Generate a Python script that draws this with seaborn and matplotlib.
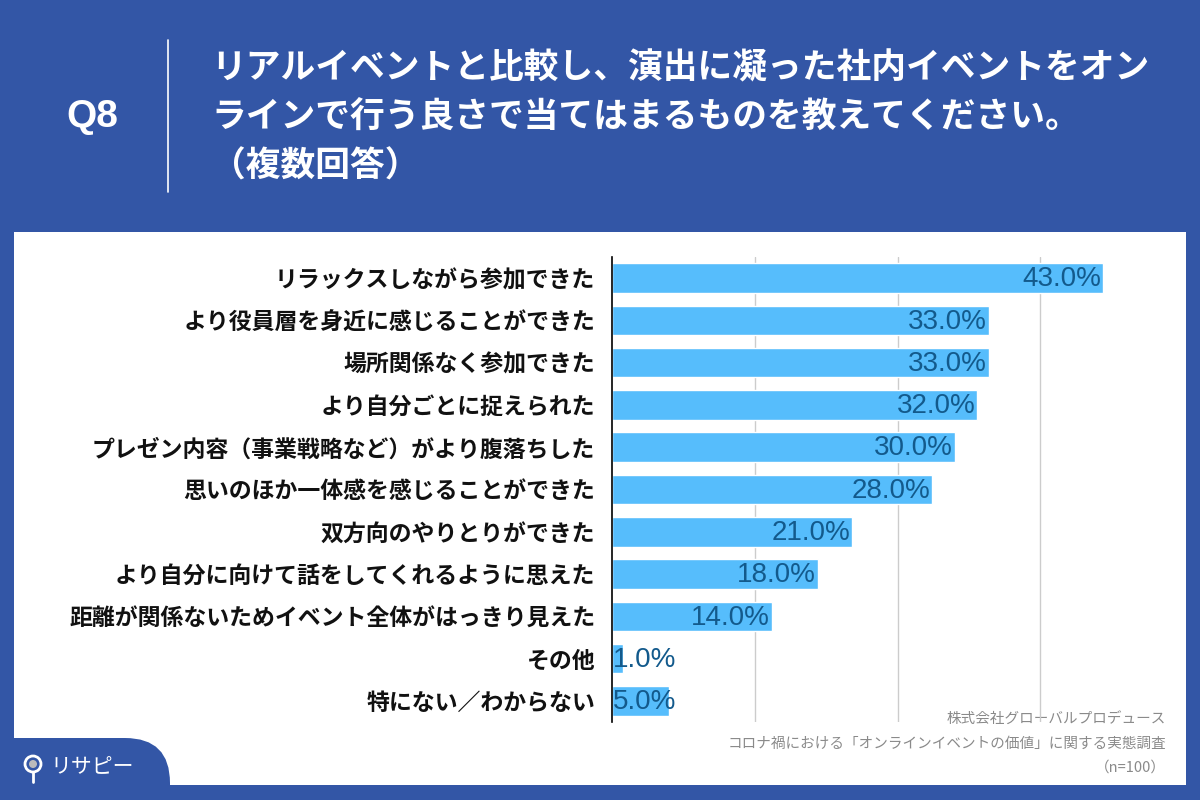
import matplotlib
matplotlib.use('Agg')
import matplotlib.pyplot as plt
import seaborn as sns
import pandas as pd
from matplotlib.patches import Rectangle, FancyBboxPatch, Circle

# データ
categories = [
    'リラックスしながら参加できた',
    'より役員層を身近に感じることができた',
    '場所関係なく参加できた',
    'より自分ごとに捉えられた',
    'プレゼン内容（事業戦略など）がより腹落ちした',
    '思いのほか一体感を感じることができた',
    '双方向のやりとりができた',
    'より自分に向けて話をしてくれるように思えた',
    '距離が関係ないためイベント全体がはっきり見えた',
    'その他',
    '特にない／わからない',
]
values = [43.0, 33.0, 33.0, 32.0, 30.0, 28.0, 21.0, 18.0, 14.0, 1.0, 5.0]

title_lines = [
    'リアルイベントと比較し、演出に凝った社内イベントをオン',
    'ラインで行う良さで当てはまるものを教えてください。',
    '（複数回答）',
]
footer_lines = [
    '株式会社グローバルプロデュース',
    'コロナ禍における「オンラインイベントの価値」に関する実態調査',
    '（n=100）',
]

sns.set_theme(style='white')
plt.rcParams['font.family'] = ['Noto Sans CJK JP', 'DejaVu Sans']

blue = '#3356a6'
bar_color = '#56bdfc'
label_color = '#135a8c'

fig = plt.figure(figsize=(12, 8), dpi=100)
fig.patch.set_facecolor(blue)

# 背景用の軸（ピクセル座標）
bg = fig.add_axes([0, 0, 1, 1], zorder=0)
bg.set_xlim(0, 1200)
bg.set_ylim(800, 0)
bg.axis('off')
bg.add_patch(Rectangle((14, 232), 1172, 553, facecolor='white', edgecolor='none'))
bg.add_patch(FancyBboxPatch((-60, 738), 230, 120, boxstyle='round,pad=0,rounding_size=45',
                            facecolor=blue, edgecolor='none'))
bg.add_patch(Rectangle((0, 785), 1200, 15, facecolor=blue, edgecolor='none'))

# ヘッダー
bg.text(92, 117, 'Q8', color='white', fontsize=28, fontweight='bold',
        ha='center', va='center', family=['Liberation Sans', 'DejaVu Sans'])
bg.plot([168, 168], [40, 192], color='white', lw=1.2)
for i, line in enumerate(title_lines):
    bg.text(211, 68 + i * 49, line, color='white', fontsize=25, fontweight='bold',
            ha='left', va='center')

# ロゴ
bg.add_patch(Circle((33, 764), 8, facecolor='none', edgecolor='white', lw=2))
bg.add_patch(Circle((33, 764), 4, facecolor='#bbbbbb', edgecolor='none'))
bg.plot([33, 33], [772, 782], color='white', lw=2)
bg.text(50, 767, 'リサピー', color='white', fontsize=15, ha='left', va='center')

# 出典
for i, line in enumerate(footer_lines):
    bg.text(1166, 720 + i * 24, line, color='#8a8a8a', fontsize=10.5,
            ha='right', va='center')

# グラフ
ax = fig.add_axes([612 / 1200, 1 - 722 / 800, 571 / 1200, (722 - 257) / 800], zorder=1)
ax.set_facecolor('none')
df = pd.DataFrame({'category': categories, 'value': values})
sns.barplot(data=df, x='value', y='category', orient='h', color=bar_color,
            saturation=1, width=0.7, ax=ax)
ax.set_xlim(0, 50)
ax.set_xticks([12.5, 25, 37.5])
ax.xaxis.grid(True, color='#cccccc', lw=1)
ax.set_axisbelow(True)
ax.set_xlabel('')
ax.set_ylabel('')
ax.tick_params(axis='x', length=0, labelbottom=False)
ax.tick_params(axis='y', length=0, pad=12)
for lbl in ax.get_yticklabels():
    lbl.set_fontsize(16.5)
    lbl.set_fontweight('bold')
    lbl.set_color('#111111')
for s in ['top', 'right', 'bottom']:
    ax.spines[s].set_visible(False)
ax.spines['left'].set_color('black')
ax.spines['left'].set_linewidth(1.2)

for i, v in enumerate(values):
    if v >= 8:
        ax.text(v - 0.15, i + 0.03, f'{v:.1f}%', ha='right', va='center', color=label_color,
                fontsize=20, family=['Liberation Sans', 'DejaVu Sans'])
    else:
        ax.text(0.1, i + 0.03, f'{v:.1f}%', ha='left', va='center', color=label_color,
                fontsize=20, family=['Liberation Sans', 'DejaVu Sans'])

fig.savefig('out.png', dpi=100, facecolor=blue)
